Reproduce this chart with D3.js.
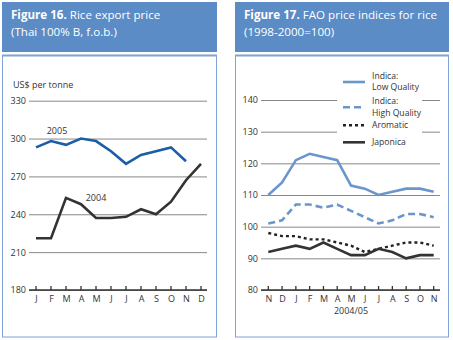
<!DOCTYPE html>
<html><head><meta charset="utf-8">
<script src="https://cdn.jsdelivr.net/npm/d3@7"></script>
<style>body{margin:0;background:#fff}svg{display:block}text{font-family:"Open Sans",sans-serif}</style>
</head><body>
<script>
// ---- Figure 16 data ----
const months16 = ["J","F","M","A","M","J","J","A","S","O","N","D"];
const price2005 = [293,298,295,300,298,290,280,287,290,293,282];
const price2004 = [221,221,253,248,237,237,238,244,240,250,267,280];
const yTicks16 = [180,210,240,270,300,330];

// ---- Figure 17 data ----
const months17 = ["N","D","J","F","M","A","M","J","J","A","S","O","N"];
const indicaLow = [110,114,121,123,122,121,113,112,110,111,112,112,111];
const indicaHigh = [101,102,107,107,106,107,105,103,101,102,104,104,103];
const aromatic = [98,97,97,96,96,95,94,92,93,94,95,95,94];
const japonica = [92,93,94,93,95,93,91,91,93,92,90,91,91];
const yTicks17 = [80,90,100,110,120,130,140];

const W=453,H=340;
const svg=d3.select("body").append("svg").attr("width",W).attr("height",H);
const headBlue="#5b8cc6", borderBlue="#7fa3d4";

function panel(x0,x1,t1,t2){
  svg.append("rect").attr("x",x0).attr("y",2).attr("width",x1-x0).attr("height",50).attr("fill",headBlue);
  const t=svg.append("text").attr("x",x0+9).attr("y",19).attr("fill","#fff").attr("font-size",11.6);
  t.append("tspan").attr("font-weight","bold").text(t1[0]);
  t.append("tspan").text(t1[1]);
  svg.append("text").attr("x",x0+9).attr("y",36).attr("fill","#fff").attr("font-size",11.6).text(t2);
  svg.append("rect").attr("x",x0+0.5).attr("y",55.5).attr("width",x1-x0-1).attr("height",281.5)
    .attr("fill","none").attr("stroke",borderBlue).attr("stroke-width",1);
  svg.append("line").attr("x1",x0).attr("x2",x1).attr("y1",55.5).attr("y2",55.5).attr("stroke",borderBlue).attr("stroke-width",2);
}
panel(2,217,["Figure 16."," Rice export price"],"(Thai 100% B, f.o.b.)");
panel(235,449,["Figure 17."," FAO price indices for rice"],"(1998-2000=100)");

// ---- Left chart ----
{
  const x=d3.scalePoint().domain(d3.range(12)).range([36,201]);
  const y=d3.scaleLinear().domain([180,330]).range([290,100.7]);
  const g=svg.append("g");
  const ax=d3.axisLeft(y).tickValues(yTicks16).tickSize(-(207-29)).tickPadding(3);
  const ga=g.append("g").attr("transform","translate(29,0)").call(ax);
  ga.select(".domain").remove();
  ga.selectAll(".tick line").attr("stroke","#888").attr("stroke-width",1);
  ga.selectAll("text").attr("font-size",9).attr("fill","#333");
  g.append("line").attr("x1",29).attr("x2",207).attr("y1",290).attr("y2",290).attr("stroke","#333").attr("stroke-width",1.3);
  const xa=d3.axisBottom(x).tickFormat(i=>months16[i]).tickSize(0).tickPadding(6);
  const gx=g.append("g").attr("transform","translate(0,290)").call(xa);
  gx.select(".domain").remove();
  gx.selectAll("text").attr("font-size",9).attr("fill","#333");
  g.selectAll(".xt").data(d3.range(12)).join("line").attr("x1",d=>x(d)).attr("x2",d=>x(d))
    .attr("y1",286).attr("y2",290).attr("stroke","#333").attr("stroke-width",1.3);
  g.append("text").attr("x",13).attr("y",88).attr("font-size",9).attr("fill","#333").text("US$ per tonne");
  const line=d3.line().x((d,i)=>x(i)).y(d=>y(d));
  g.append("path").attr("d",line(price2004)).attr("fill","none").attr("stroke","#333").attr("stroke-width",2.6);
  g.append("path").attr("d",line(price2005)).attr("fill","none").attr("stroke","#1a5ea8").attr("stroke-width",2.6);
  g.append("text").attr("x",57).attr("y",134).attr("text-anchor","middle").attr("font-size",9).attr("fill","#333").text("2005");
  g.append("text").attr("x",96).attr("y",201).attr("text-anchor","middle").attr("font-size",9).attr("fill","#333").text("2004");
}

// ---- Right chart ----
{
  const x=d3.scalePoint().domain(d3.range(13)).range([268.3,433.7]);
  const y=d3.scaleLinear().domain([80,140]).range([290,100]);
  const g=svg.append("g");
  const ax=d3.axisLeft(y).tickValues(yTicks17).tickSize(-(440-261)).tickPadding(3);
  const ga=g.append("g").attr("transform","translate(261,0)").call(ax);
  ga.select(".domain").remove();
  ga.selectAll(".tick line").attr("stroke","#888").attr("stroke-width",1);
  ga.selectAll("text").attr("font-size",9).attr("fill","#333");
  g.append("line").attr("x1",261).attr("x2",440).attr("y1",290).attr("y2",290).attr("stroke","#333").attr("stroke-width",1.3);
  const xa=d3.axisBottom(x).tickFormat(i=>months17[i]).tickSize(0).tickPadding(6);
  const gx=g.append("g").attr("transform","translate(0,290)").call(xa);
  gx.select(".domain").remove();
  gx.selectAll("text").attr("font-size",9).attr("fill","#333");
  g.selectAll(".xt").data(d3.range(13)).join("line").attr("x1",d=>x(d)).attr("x2",d=>x(d))
    .attr("y1",286).attr("y2",290).attr("stroke","#333").attr("stroke-width",1.3);
  g.append("text").attr("x",351).attr("y",314).attr("text-anchor","middle").attr("font-size",9).attr("fill","#333").text("2004/05");
  // legend background
  g.append("rect").attr("x",337).attr("y",70).attr("width",85).attr("height",80).attr("fill","#fff");
  const line=d3.line().x((d,i)=>x(i)).y(d=>y(d));
  const series=[
    {v:indicaLow,c:"#6a96cc",dash:null,w:2.6,l:["Indica:","Low Quality"]},
    {v:indicaHigh,c:"#6a96cc",dash:"7,4",w:2.6,l:["Indica:","High Quality"]},
    {v:aromatic,c:"#222",dash:"3,3",w:2.4,l:["Aromatic"]},
    {v:japonica,c:"#333",dash:null,w:2.6,l:["Japonica"]}
  ];
  series.forEach(s=>{
    g.append("path").attr("d",line(s.v)).attr("fill","none").attr("stroke",s.c).attr("stroke-width",s.w)
      .attr("stroke-dasharray",s.dash);
  });
  const ly=[82,107.3,125.3,142.3];
  series.forEach((s,i)=>{
    g.append("line").attr("x1",343).attr("x2",365).attr("y1",ly[i]).attr("y2",ly[i]).attr("stroke",s.c)
      .attr("stroke-width",s.w).attr("stroke-dasharray",s.dash);
    if(s.l.length===2){
      g.append("text").attr("x",372).attr("y",ly[i]-3.2).attr("font-size",8.6)
        .attr("font-family","Liberation Sans").attr("fill","#333").text(s.l[0]);
      g.append("text").attr("x",372).attr("y",ly[i]+8.3).attr("font-size",8.6)
        .attr("font-family","Liberation Sans").attr("fill","#333").text(s.l[1]);
    } else {
      g.append("text").attr("x",372).attr("y",ly[i]+3).attr("font-size",8.6)
        .attr("font-family","Liberation Sans").attr("fill","#333").text(s.l[0]);
    }
  });
}
</script>
</body></html>
